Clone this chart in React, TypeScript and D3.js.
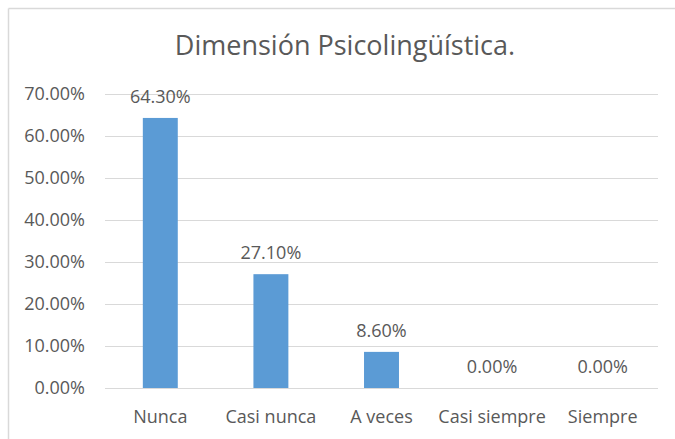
import React from "react";
import * as d3 from "d3";

const categories = ["Nunca", "Casi nunca", "A veces", "Casi siempre", "Siempre"];
const values = [0.643, 0.271, 0.086, 0, 0];
const yTicks = [0, 0.1, 0.2, 0.3, 0.4, 0.5, 0.6, 0.7];
const title = "Dimensión Psicolingüística.";

const W = 675;
const H = 439;
const FONT = "'Open Sans', 'Noto Sans', sans-serif";
const TEXT = "#595959";
const GRID = "#d9d9d9";
const BAR = "#5b9bd5";

export default function App() {
  const x = d3
    .scaleBand<string>()
    .domain(categories)
    .range([105, 658])
    .paddingInner(0.684)
    .paddingOuter(0.342);

  const y = d3.scaleLinear().domain([0, 0.7]).range([388, 94]);
  const fmt = d3.format(".2%");

  return (
    <div style={{ position: "absolute", left: 0, top: 0 }}>
      <svg width={W} height={H} style={{ display: "block", background: "#fff" }}>
        {/* chart border (left + top visible) */}
        <line x1={8.5} y1={8.5} x2={W} y2={8.5} stroke={GRID} strokeWidth={1.5} />
        <line x1={8.5} y1={8.5} x2={8.5} y2={H} stroke={GRID} strokeWidth={1.5} />

        <text
          x={345}
          y={55}
          textAnchor="middle"
          fontFamily={FONT}
          fontSize={27}
          fill={TEXT}
        >
          {title}
        </text>

        {yTicks.map((t) => (
          <g key={t}>
            <line
              x1={105}
              x2={658}
              y1={Math.round(y(t)) + 0.5}
              y2={Math.round(y(t)) + 0.5}
              stroke={GRID}
              strokeWidth={1}
            />
            <text
              x={85}
              y={y(t)}
              dy="0.35em"
              textAnchor="end"
              fontFamily={FONT}
              fontSize={18}
              fill={TEXT}
            >
              {fmt(t)}
            </text>
          </g>
        ))}

        {categories.map((c, i) => (
          <g key={c}>
            <rect
              x={x(c)}
              y={y(values[i])}
              width={x.bandwidth()}
              height={y(0) - y(values[i])}
              fill={BAR}
            />
            <text
              x={(x(c) as number) + x.bandwidth() / 2}
              y={y(values[i]) - 15}
              textAnchor="middle"
              fontFamily={FONT}
              fontSize={18}
              fill={TEXT}
            >
              {fmt(values[i])}
            </text>
            <text
              x={(x(c) as number) + x.bandwidth() / 2}
              y={423}
              textAnchor="middle"
              fontFamily={FONT}
              fontSize={18}
              fill={TEXT}
            >
              {c}
            </text>
          </g>
        ))}
      </svg>
    </div>
  );
}
